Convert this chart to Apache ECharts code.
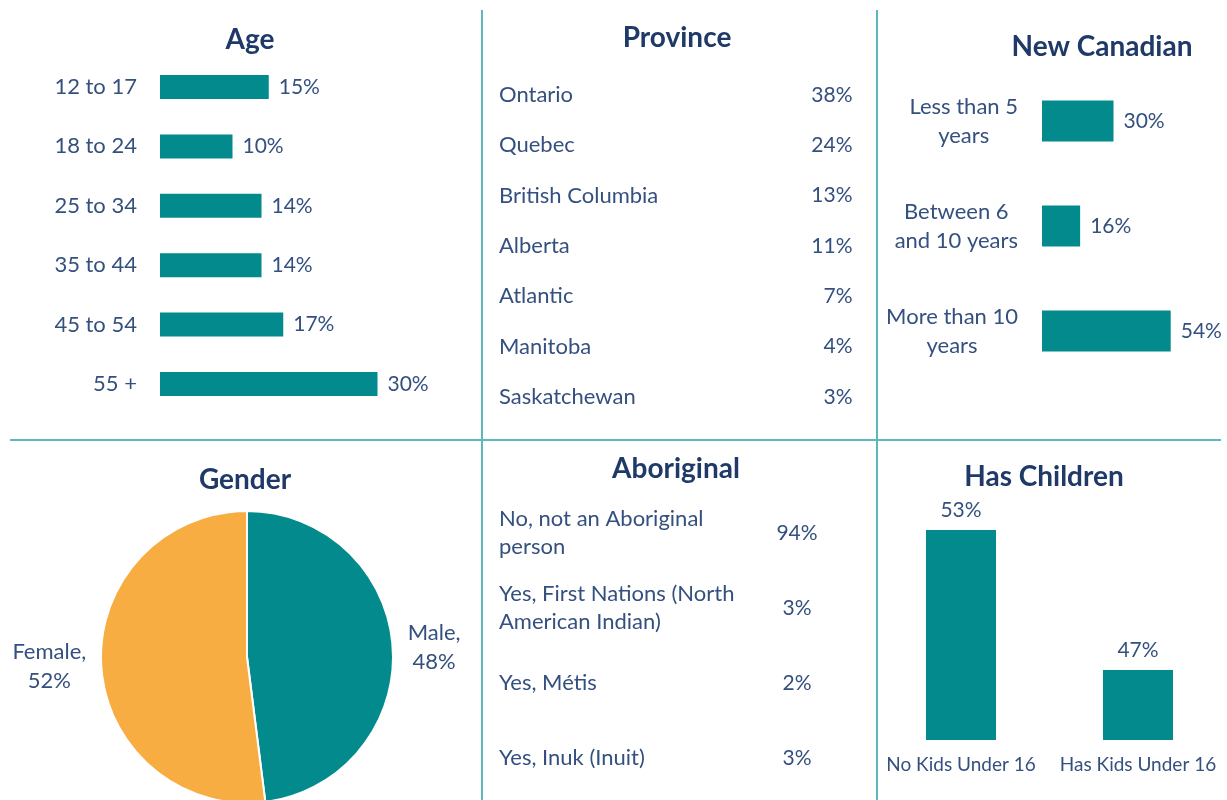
<!DOCTYPE html>
<html>
<head>
<meta charset="utf-8">
<script src="https://cdn.jsdelivr.net/npm/echarts@6/dist/echarts.min.js"></script>
<style>
html,body{margin:0;padding:0;background:#fff;}
#chart{width:1227px;height:800px;}
</style>
</head>
<body>
<div id="chart"></div>
<script>
// ---- Data ----
const ageCategories = ['12 to 17', '18 to 24', '25 to 34', '35 to 44', '45 to 54', '55 +'];
const ageValues = [15, 10, 14, 14, 17, 30];

const provinceNames = ['Ontario', 'Quebec', 'British Columbia', 'Alberta', 'Atlantic', 'Manitoba', 'Saskatchewan'];
const provinceValues = [38, 24, 13, 11, 7, 4, 3];

const newCanadianCategories = ['Less than 5\nyears', 'Between 6\nand 10 years', 'More than 10\nyears'];
const newCanadianValues = [30, 16, 54];

const genderNames = ['Male', 'Female'];
const genderValues = [48, 52];

const aboriginalNames = ['No, not an Aboriginal\nperson', 'Yes, First Nations (North\nAmerican Indian)', 'Yes, Métis', 'Yes, Inuk (Inuit)'];
const aboriginalValues = [94, 3, 2, 3];

const childrenCategories = ['No Kids Under 16', 'Has Kids Under 16'];
const childrenValues = [53, 47];

// ---- Style ----
const TEAL = '#038a8c';
const ORANGE = '#f8ad42';
const TITLE_C = '#1f3a68';
const TEXT_C = '#34507f';
const LINE_C = '#5cb8ba';
const FONT = 'Lato';
const NAME_FS = 22;
const NUM_FS = 21;

const chart = echarts.init(document.getElementById('chart'), null, {renderer: 'canvas'});

function titleAt(text, cx, cy) {
  return {
    text: text, left: cx, top: cy - 14, textAlign: 'center', padding: 0,
    textStyle: {fontFamily: FONT, fontSize: 28, fontWeight: 'bold', color: TITLE_C}
  };
}
const hidden = {show: false};
const baseGrid = {containLabel: false, outerBoundsMode: 'none'};
const invisible = {color: 'rgba(0,0,0,0)', opacity: 1};

const option = {
  backgroundColor: '#fff',
  animation: false,
  textStyle: {fontFamily: FONT},
  title: [
    titleAt('Age', 250, 40),
    titleAt('Province', 677, 38),
    titleAt('New Canadian', 1102, 47),
    titleAt('Gender', 245, 480),
    titleAt('Aboriginal', 676, 469),
    titleAt('Has Children', 1044, 477)
  ],
  grid: [
    Object.assign({left: 160, top: 57.3, width: 290, height: 356.4}, baseGrid),
    Object.assign({left: 499, top: 69.8, width: 354, height: 352.2}, baseGrid),
    Object.assign({left: 1042, top: 68.5, width: 143, height: 315}, baseGrid),
    Object.assign({left: 499, top: 495.5, width: 298, height: 300}, baseGrid),
    Object.assign({left: 872.5, top: 460, width: 354, height: 280}, baseGrid)
  ],
  xAxis: [
    {gridIndex: 0, type: 'value', min: 0, max: 40, show: false},
    {gridIndex: 1, type: 'value', min: 0, max: 1, show: false},
    {gridIndex: 2, type: 'value', min: 0, max: 60, show: false},
    {gridIndex: 3, type: 'value', min: 0, max: 1, show: false},
    {gridIndex: 4, type: 'category', data: childrenCategories,
      axisLine: hidden, axisTick: hidden, splitLine: hidden,
      axisLabel: {interval: 0, hideOverlap: false, margin: 15, fontSize: 19, color: TEXT_C, fontFamily: FONT}}
  ],
  yAxis: [
    {gridIndex: 0, type: 'category', inverse: true, data: ageCategories,
      axisLine: hidden, axisTick: hidden, splitLine: hidden,
      axisLabel: {interval: 0, margin: 23, fontSize: NAME_FS, color: TEXT_C, fontFamily: FONT}},
    {gridIndex: 1, type: 'category', inverse: true, data: provinceNames,
      axisLine: hidden, axisTick: hidden, splitLine: hidden,
      axisLabel: {interval: 0, margin: 0, align: 'left', fontSize: NAME_FS, color: TEXT_C, fontFamily: FONT}},
    {gridIndex: 2, type: 'category', inverse: true, data: newCanadianCategories,
      axisLine: hidden, axisTick: hidden, splitLine: hidden,
      axisLabel: {interval: 0, margin: 24, align: 'right',
        formatter: v => v.split('\n').map(s => '{a|' + s + '}').join('\n'),
        rich: {a: {align: 'center', fontSize: NAME_FS, lineHeight: 29, color: TEXT_C, fontFamily: FONT}}}},
    {gridIndex: 3, type: 'category', inverse: true, data: aboriginalNames,
      axisLine: hidden, axisTick: hidden, splitLine: hidden,
      axisLabel: {interval: 0, margin: 0, align: 'left', fontSize: NAME_FS, lineHeight: 28, color: TEXT_C, fontFamily: FONT}},
    {gridIndex: 4, type: 'value', min: 44, max: 56, show: false}
  ],
  series: [
    {type: 'bar', xAxisIndex: 0, yAxisIndex: 0, data: ageValues, barWidth: 24,
      itemStyle: {color: TEAL}, silent: true,
      label: {show: true, position: 'right', distance: 10, formatter: '{c}%', fontSize: NUM_FS, color: TEXT_C, fontFamily: FONT}},
    {type: 'scatter', xAxisIndex: 1, yAxisIndex: 1, symbolSize: 1, silent: true,
      itemStyle: invisible,
      data: provinceNames.map((n, i) => [1, n, provinceValues[i]]),
      label: {show: true, position: 'left', distance: 0, formatter: p => p.value[2] + '%', fontSize: NUM_FS, color: TEXT_C, fontFamily: FONT}},
    {type: 'bar', xAxisIndex: 2, yAxisIndex: 2, data: newCanadianValues, barWidth: 41,
      itemStyle: {color: TEAL}, silent: true,
      label: {show: true, position: 'right', distance: 10, formatter: '{c}%', fontSize: NUM_FS, color: TEXT_C, fontFamily: FONT}},
    {type: 'scatter', xAxisIndex: 3, yAxisIndex: 3, symbolSize: 1, silent: true,
      itemStyle: invisible,
      data: aboriginalNames.map((n, i) => [1, n, aboriginalValues[i]]),
      label: {show: true, position: 'inside', formatter: p => p.value[2] + '%', fontSize: NUM_FS, color: TEXT_C, fontFamily: FONT}},
    {type: 'bar', xAxisIndex: 4, yAxisIndex: 4, data: childrenValues, barWidth: 70,
      itemStyle: {color: TEAL}, silent: true,
      label: {show: true, position: 'top', distance: 9, formatter: '{c}%', fontSize: NUM_FS, color: TEXT_C, fontFamily: FONT}},
    {type: 'pie', center: [247, 657], radius: 146, startAngle: 90, clockwise: true,
      silent: true, avoidLabelOverlap: false,
      itemStyle: {borderColor: '#fff', borderWidth: 2},
      data: genderNames.map((n, i) => ({name: n, value: genderValues[i], itemStyle: {color: i === 0 ? TEAL : ORANGE}})),
      label: {show: true, position: 'outside', formatter: '{a|{b},}\n{a|{c}%}',
        rich: {a: {align: 'center', fontSize: NAME_FS, lineHeight: 29, color: TEXT_C, fontFamily: FONT}}},
      labelLine: {show: false, length: 10, length2: 0}}
  ],
  graphic: [
    {type: 'line', silent: true, shape: {x1: 482, y1: 10, x2: 482, y2: 800}, style: {stroke: LINE_C, lineWidth: 2}},
    {type: 'line', silent: true, shape: {x1: 877, y1: 10, x2: 877, y2: 800}, style: {stroke: LINE_C, lineWidth: 2}},
    {type: 'line', silent: true, shape: {x1: 10, y1: 440, x2: 1221, y2: 440}, style: {stroke: LINE_C, lineWidth: 2}}
  ]
};
chart.setOption(option);
</script>
</body>
</html>
